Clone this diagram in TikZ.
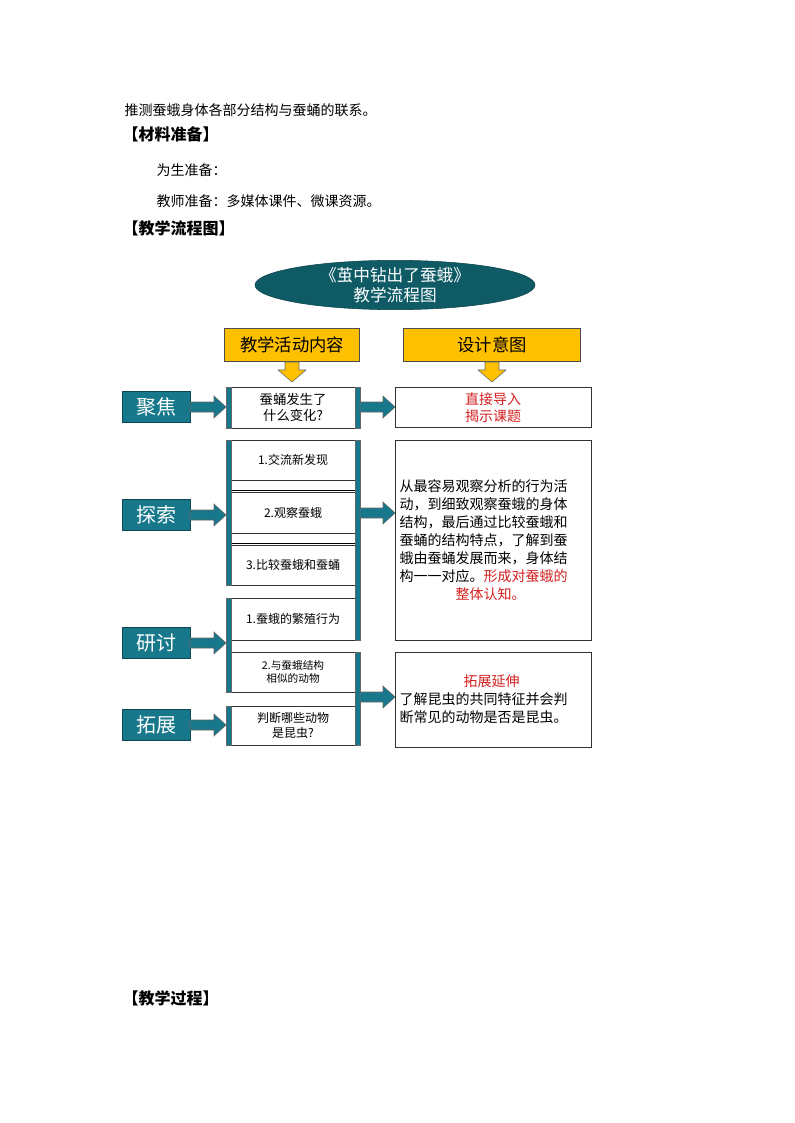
\documentclass[tikz,border=0pt]{standalone}
\usepackage{fontspec}
\setmainfont{Noto Sans CJK SC}
\usetikzlibrary{shapes.geometric}
\definecolor{tealdark}{HTML}{0E5B66}
\definecolor{tealbox}{HTML}{16788A}
\definecolor{goldbox}{HTML}{FFC000}
\definecolor{redtext}{HTML}{D42020}
\tikzset{
  stage/.style={fill=tealbox,draw=tealbox!60!black,text=white,minimum width=51pt,minimum height=23pt,font=\fontsize{15}{17}\selectfont},
  head/.style={fill=goldbox,draw=black!70,font=\fontsize{13}{15}\selectfont},
  cell/.style={draw=black!80,fill=white,align=center,font=\fontsize{9}{11}\selectfont},
  note/.style={draw=black!80,fill=white,align=left,font=\fontsize{10.5}{13.5}\selectfont},
  bar/.style={fill=tealbox,draw=black!60},
}
% block arrow pointing right: (start x, y, end x)
\newcommand{\rarrow}[3]{\draw[fill=tealbox,draw=black!60] (#1,#2-5) -- (#3-12,#2-5) -- (#3-12,#2-11) -- (#3,#2) -- (#3-12,#2+11) -- (#3-12,#2+5) -- (#1,#2+5) -- cycle;}
\newcommand{\darrow}[3]{\draw[fill=goldbox,draw=black!60] (#1-7,#2) -- (#1+7,#2) -- (#1+7,#2+8) -- (#1+14,#2+8) -- (#1,#3) -- (#1-14,#2+8) -- (#1-7,#2+8) -- cycle;}
\begin{document}
\begin{tikzpicture}[x=0.75pt,y=-0.75pt]
  \useasboundingbox (0,0) rectangle (794,1123);
  % text above
  \node[anchor=west,font=\fontsize{10.5}{12}\selectfont] (t1) at (120,110) {推测蚕蛾身体各部分结构与蚕蛹的联系。};
  \node[anchor=west,font=\fontsize{12}{14}\bfseries] (t2) at (118,134) {【材料准备】};
  \node[anchor=west,font=\fontsize{10.5}{12}\selectfont] (t3) at (152,170) {为生准备：};
  \node[anchor=west,font=\fontsize{10.5}{12}\selectfont] (t4) at (152,201) {教师准备：多媒体课件、微课资源。};
  \node[anchor=west,font=\fontsize{12}{14}\bfseries] (t5) at (118,228) {【教学流程图】};
  \node[anchor=west,font=\fontsize{12}{14}\bfseries] (t6) at (118,998) {【教学过程】};
  % title
  \node[ellipse,fill=tealdark,draw=tealdark!70!black,text=white,minimum width=210pt,minimum height=37pt,align=center,inner sep=0pt,font=\fontsize{12.5}{14.5}\selectfont] (title) at (395,285) {《茧中钻出了蚕蛾》\\教学流程图};
  % headers
  \node[head,minimum width=101pt,minimum height=25pt] (hleft) at (292,345) {教学活动内容};
  \node[head,minimum width=133pt,minimum height=25pt] (hright) at (492,345) {设计意图};
  \darrow{292}{362}{382}
  \darrow{492}{362}{382}
  % left column
  \draw[cell] (226,387) rectangle (360,428);
  \node[cell,draw=none,fill=none,font=\fontsize{10}{12}\selectfont] (c0) at (293,407) {蚕蛹发生了\\什么变化?};
  \foreach \a/\b/\t/\n in {440/480/1.交流新发现/c1, 492/533/2.观察蚕蛾/c2, 545/585/3.比较蚕蛾和蚕蛹/c3, 598/640/1.蚕蛾的繁殖行为/c4, 706/745/{判断哪些动物\\是昆虫?}/c6} {
    \draw[cell] (226,\a) rectangle (360,\b);
    \node[cell,draw=none,fill=none] (\n) at (293,{(\a+\b)/2}) {\t};
  }
  \draw[cell] (226,652) rectangle (360,692);
  \node[cell,draw=none,fill=none,font=\fontsize{8}{10}\selectfont] (c5) at (293,672) {2.与蚕蛾结构\\相似的动物};
  \draw (226,490) -- (360,490);
  \draw (226,543) -- (360,543);
  % bars
  \foreach \x/\a/\b in {226/387/428, 355/387/428, 226/440/585, 355/440/640, 226/598/692, 355/652/745, 226/706/745}
    \draw[bar] (\x,\a) rectangle (\x+5,\b);
  % stages
  \node[stage] (s1) at (156,407) {聚焦};
  \node[stage] (s2) at (156,515) {探索};
  \node[stage] (s3) at (156,643) {研讨};
  \node[stage] (s4) at (156,725) {拓展};
  \rarrow{190}{407}{226}
  \rarrow{190}{515}{226}
  \rarrow{190}{643}{226}
  \rarrow{190}{725}{226}
  % right column
  \node[cell,minimum width=147pt,minimum height=30pt,text=redtext,font=\fontsize{10.5}{12.5}\selectfont] (r1) at (493,407.5) {直接导入\\揭示课题};
  \node[note,minimum width=147pt,minimum height=150pt,text width=140pt] (r2) at (493,540) {从最容易观察分析的行为活\\动，到细致观察蚕蛾的身体\\结构，最后通过比较蚕蛾和\\蚕蛹的结构特点，了解到蚕\\蛾由蚕蛹发展而来，身体结\\构一一对应。\textcolor{redtext}{形成对蚕蛾的}\\\hspace*{42pt}\textcolor{redtext}{整体认知。}};
  \node[note,minimum width=147pt,minimum height=71pt,text width=140pt] (r3) at (493,699.5) {\hspace*{48pt}\textcolor{redtext}{拓展延伸}\\了解昆虫的共同特征并会判\\断常见的动物是否是昆虫。};
  \rarrow{360}{407}{395}
  \rarrow{360}{513}{395}
  \rarrow{360}{697}{395}
\end{tikzpicture}
\end{document}
